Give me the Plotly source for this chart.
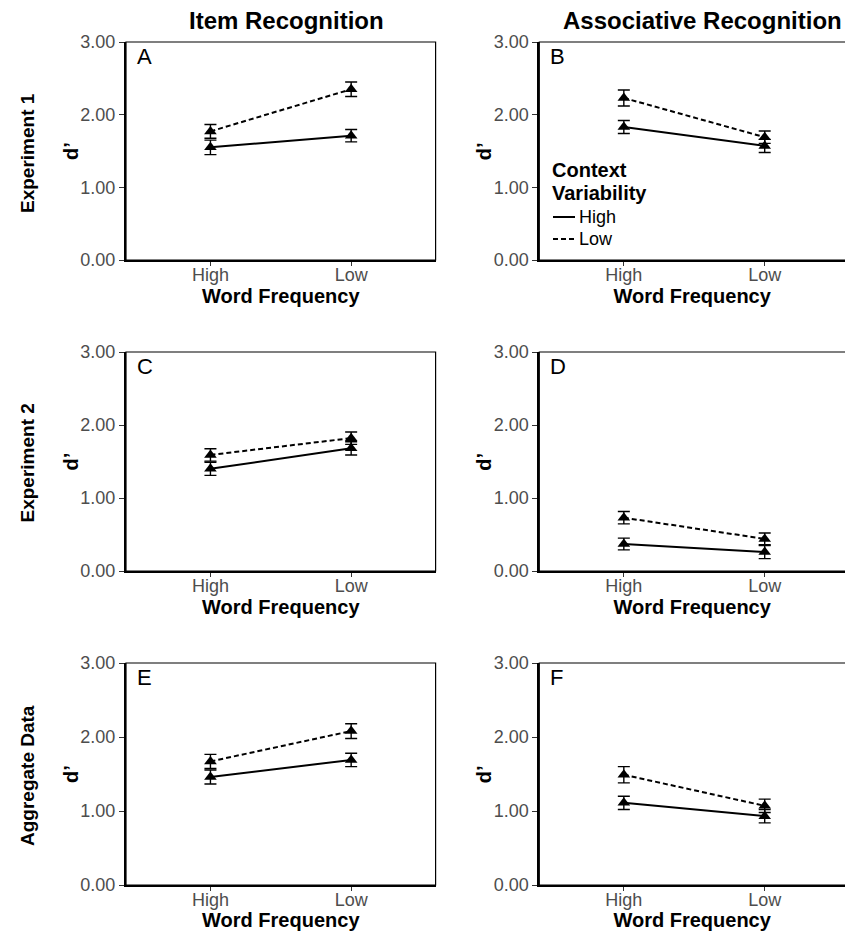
import plotly.graph_objects as go

# ---------------- data ----------------
freq_levels = ["High", "Low"]
panel_letters = ["A", "B", "C", "D", "E", "F"]
row_labels = ["Experiment 1", "Experiment 2", "Aggregate Data"]
col_titles = ["Item Recognition", "Associative Recognition"]
y_tick_vals = [0, 1, 2, 3]
y_tick_labels = ["0.00", "1.00", "2.00", "3.00"]
legend_title_lines = ["Context", "Variability"]
legend_levels = ["High", "Low"]

# High context variability (solid) / Low context variability (dashed)
high_cv_A = [1.55, 1.71]
high_cv_A_se = [0.10, 0.085]
low_cv_A = [1.77, 2.35]
low_cv_A_se = [0.095, 0.10]

high_cv_B = [1.83, 1.57]
high_cv_B_se = [0.09, 0.09]
low_cv_B = [2.23, 1.69]
low_cv_B_se = [0.11, 0.085]

high_cv_C = [1.40, 1.68]
high_cv_C_se = [0.09, 0.09]
low_cv_C = [1.59, 1.82]
low_cv_C_se = [0.085, 0.085]

high_cv_D = [0.37, 0.26]
high_cv_D_se = [0.08, 0.09]
low_cv_D = [0.73, 0.44]
low_cv_D_se = [0.085, 0.08]

high_cv_E = [1.46, 1.69]
high_cv_E_se = [0.095, 0.09]
low_cv_E = [1.67, 2.08]
low_cv_E_se = [0.095, 0.10]

high_cv_F = [1.11, 0.93]
high_cv_F_se = [0.09, 0.09]
low_cv_F = [1.49, 1.07]
low_cv_F_se = [0.11, 0.09]

panel_data = {
    "A": (high_cv_A, high_cv_A_se, low_cv_A, low_cv_A_se),
    "B": (high_cv_B, high_cv_B_se, low_cv_B, low_cv_B_se),
    "C": (high_cv_C, high_cv_C_se, low_cv_C, low_cv_C_se),
    "D": (high_cv_D, high_cv_D_se, low_cv_D, low_cv_D_se),
    "E": (high_cv_E, high_cv_E_se, low_cv_E, low_cv_E_se),
    "F": (high_cv_F, high_cv_F_se, low_cv_F, low_cv_F_se),
}

# ---------------- layout geometry ----------------
W, H = 845, 931
col_px = [(126, 435.6), (539.3, 845)]
row_px = [(42, 260), (352, 571), (663, 885)]
x_ranges = [[-0.6, 1.6], [-0.6, 1.57]]

FONT = "Liberation Sans, Arial, Helvetica, sans-serif"
TICK_GRAY = "#4D4D4D"
DASH = "5px,3px"

fig = go.Figure()
layout = {}
shapes = []
annotations = []

for i, letter in enumerate(panel_letters):
    r, c = divmod(i, 2)
    n = i + 1
    xa = "x" if n == 1 else f"x{n}"
    ya = "y" if n == 1 else f"y{n}"
    hi, hi_se, lo, lo_se = panel_data[letter]

    err_style = dict(type="data", visible=True, color="black", thickness=1.4, width=6)
    fig.add_trace(go.Scatter(
        x=freq_levels, y=hi, mode="lines+markers", xaxis=xa, yaxis=ya,
        line=dict(color="black", width=2, dash="solid"),
        marker=dict(symbol="triangle-up", size=11, color="black"),
        error_y=dict(array=hi_se, **err_style), showlegend=False,
        name="High"))
    fig.add_trace(go.Scatter(
        x=freq_levels, y=lo, mode="lines+markers", xaxis=xa, yaxis=ya,
        line=dict(color="black", width=2, dash=DASH),
        marker=dict(symbol="triangle-up", size=11, color="black"),
        error_y=dict(array=lo_se, **err_style), showlegend=False,
        name="Low"))

    x0, x1 = col_px[c]
    ytop, ybot = row_px[r]
    xkey = "xaxis" if n == 1 else f"xaxis{n}"
    ykey = "yaxis" if n == 1 else f"yaxis{n}"
    layout[xkey] = dict(
        domain=[x0 / W, min(x1 / W, 1.0)], anchor=ya, type="category",
        categoryorder="array", categoryarray=freq_levels,
        range=x_ranges[c], showgrid=False, zeroline=False,
        showline=True, linecolor="black", linewidth=2,
        ticks="outside", ticklen=4, tickwidth=1, tickcolor="#333333",
        ticklabelstandoff=-7,
        tickfont=dict(family=FONT, size=18, color=TICK_GRAY),
        title=dict(text="<b>Word Frequency</b>", standoff=3,
                   font=dict(family=FONT, size=20, color="black")),
        fixedrange=True)
    layout[ykey] = dict(
        domain=[1 - ybot / H, 1 - ytop / H], anchor=xa, range=[0, 3],
        tickvals=y_tick_vals, ticktext=y_tick_labels,
        showgrid=False, zeroline=False,
        showline=True, linecolor="black", linewidth=2,
        ticks="outside", ticklen=5, tickwidth=1, tickcolor="#333333",
        tickfont=dict(family=FONT, size=18, color=TICK_GRAY),
        fixedrange=True)

    # y-axis title d'
    annotations.append(dict(text="<b>d’</b>", xref="paper", yref="paper",
                            x=(x0 - 55) / W, y=1 - (ytop + ybot) / 2 / H,
                            textangle=-90, xanchor="center", yanchor="middle",
                            showarrow=False,
                            font=dict(family=FONT, size=20, color="black")))

    # thin panel border
    shapes.append(dict(type="rect", xref=f"{xa} domain", yref=f"{ya} domain",
                       x0=0, x1=1 if c == 0 else 1.05, y0=0, y1=1,
                       line=dict(color="black", width=1.2), layer="above"))
    # panel letter
    annotations.append(dict(text=letter, xref=f"{xa} domain", yref=f"{ya} domain",
                            x=0.028, y=0.998, xanchor="left", yanchor="top",
                            showarrow=False,
                            font=dict(family=FONT, size=22, color="black")))

# column titles
col_title_x = [286, 702]
for c, t in enumerate(col_titles):
    annotations.append(dict(text=f"<b>{t}</b>", xref="paper", yref="paper",
                            x=col_title_x[c] / W, y=1 - 21 / H,
                            xanchor="center", yanchor="middle", showarrow=False,
                            font=dict(family=FONT, size=24, color="black")))

# row labels
for r, t in enumerate(row_labels):
    yc = (row_px[r][0] + row_px[r][1]) / 2 + 2
    annotations.append(dict(text=f"<b>{t}</b>", xref="paper", yref="paper",
                            x=27 / W, y=1 - yc / H, textangle=-90,
                            xanchor="center", yanchor="middle", showarrow=False,
                            font=dict(family=FONT, size=19, color="black")))

# legend (inside panel B)
for k, line in enumerate(legend_title_lines):
    yy = 170 + 23 * k
    annotations.append(dict(text=f"<b>{line}</b>", xref="paper", yref="paper",
                            x=550 / W, y=1 - yy / H, xanchor="left", yanchor="middle",
                            showarrow=False,
                            font=dict(family=FONT, size=20, color="black")))
for k, (lvl, dash) in enumerate(zip(legend_levels, ["solid", DASH])):
    yy = 217 + 22 * k
    shapes.append(dict(type="line", xref="paper", yref="paper",
                       x0=553 / W, x1=575 / W, y0=1 - yy / H, y1=1 - yy / H,
                       line=dict(color="black", width=2, dash=dash)))
    annotations.append(dict(text=lvl, xref="paper", yref="paper",
                            x=577 / W, y=1 - yy / H, xanchor="left", yanchor="middle",
                            showarrow=False,
                            font=dict(family=FONT, size=18, color="black")))

fig.update_layout(
    width=W, height=H, template="none",
    paper_bgcolor="white", plot_bgcolor="white",
    margin=dict(l=0, r=0, t=0, b=0),
    font=dict(family=FONT, color="black"),
    showlegend=False,
    shapes=shapes, annotations=annotations,
    **layout,
)

fig.write_html("out.html", config={"displayModeBar": False},
               post_script="document.body.style.margin='0px';")
